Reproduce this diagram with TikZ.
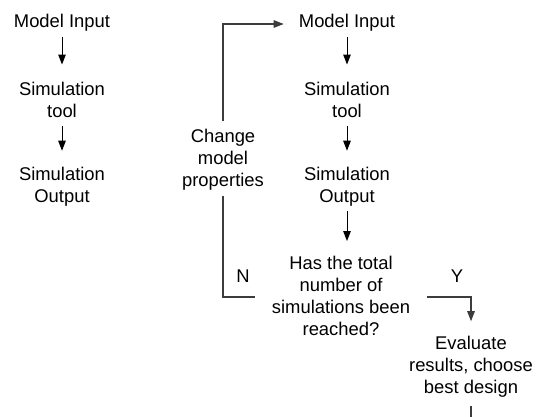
\documentclass[tikz,border=0pt]{standalone}
\usepackage{fontspec}
\setmainfont{Liberation Sans}
\usetikzlibrary{arrows.meta}
\definecolor{lnc}{RGB}{60,60,60}
\tikzset{
  txt/.style={align=center, inner sep=0pt, font=\fontsize{18.4}{22}\selectfont, text=black},
  tip/.style={-{Triangle[length=10pt,width=7.5pt]}},
  arr/.style={draw=black, line width=1pt, tip},
  fb/.style={draw=lnc, line width=1.1pt},
}
\begin{document}
\begin{tikzpicture}[x=1pt,y=-1pt]
\useasboundingbox (0,0) rectangle (540,417);
% left column
\node[txt] (mi1) at (62,22.5) {Model Input};
\node[txt] (st1) at (62,99.5) {Simulation\\tool};
\node[txt] (so1) at (62,186.5) {Simulation\\Output};
% right column
\node[txt] (mi2) at (347,22.5) {Model Input};
\node[txt] (st2) at (347,99.5) {Simulation\\tool};
\node[txt] (so2) at (347,186.5) {Simulation\\Output};
\node[txt] (q) at (341,296) {Has the total\\number of\\simulations been\\reached?};
\node[txt] (cm) at (223,160) {Change\\model\\properties};
\node[txt] (ev) at (471,367) {Evaluate\\results, choose\\best design};
\node[txt] (n) at (243,276) {N};
\node[txt] (y) at (457,276) {Y};
\coordinate (out) at (471,425);
% arrows
\draw[arr, shorten <=6pt, shorten >=17pt] (mi1) -- (st1);
\draw[arr, shorten <=9pt, shorten >=16pt] (st1) -- (so1);
\draw[arr, shorten <=6pt, shorten >=17pt] (mi2) -- (st2);
\draw[arr, shorten <=9pt, shorten >=16pt] (st2) -- (so2);
\draw[arr, shorten <=5pt, shorten >=15pt] (so2) -- (so2.south |- q.north);
% feedback loop
\draw[fb, shorten >=5pt] ([xshift=-17pt,yshift=-1pt]q.west) -| (cm.south);
\draw[fb, tip, shorten <=8pt, shorten >=15pt] (cm.north) |- ([yshift=-1.5pt]mi2.west);
% yes branch
\draw[fb, tip, shorten >=15pt] ([xshift=17pt,yshift=-1pt]q.east) -| (ev.north);
\draw[fb, shorten <=8pt] (ev.south) -- (out);
\end{tikzpicture}
\end{document}
